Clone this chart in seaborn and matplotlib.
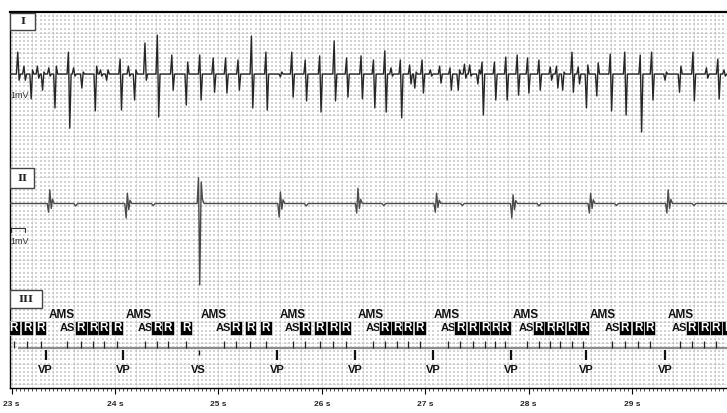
import numpy as np
import pandas as pd
import matplotlib
matplotlib.use("Agg")
import matplotlib.pyplot as plt
from matplotlib.patches import Rectangle
from matplotlib.ticker import MultipleLocator
import seaborn as sns

# ---- channel I (atrial EGM): spike time [s], first and second extreme [mm, up = +]
ch1_t = [23.06, 23.12, 23.19, 23.25, 23.30, 23.36, 23.42, 23.55, 23.60, 23.68,
         23.81, 23.86, 23.92, 24.05, 24.13, 24.19, 24.29, 24.41, 24.55, 24.69,
         24.82, 24.95, 25.07, 25.19, 25.32, 25.46, 25.60, 25.71, 25.84, 25.98,
         26.12, 26.24, 26.38, 26.50, 26.61, 26.67, 26.76, 26.85, 26.90, 26.97,
         27.05, 27.14, 27.24, 27.32, 27.38, 27.43, 27.51, 27.55, 27.67, 27.78,
         27.89, 27.99, 28.10, 28.21, 28.27, 28.33, 28.42, 28.48, 28.56, 28.66,
         28.79, 28.93, 29.08, 29.19, 29.32, 29.46, 29.59, 29.72, 29.83, 29.89]
ch1_a = [5.3, 1.9, -6.0, 1.9, -3.9, 1.5, -8.2, 5.3, 1.5, -3.4,
         -8.9, 1.0, -1.5, 3.6, 1.9, -6.3, 7.5, 9.4, 4.6, -7.5,
         4.6, 3.9, 3.9, 3.4, 9.2, 5.3, -0.7, 5.3, 3.4, 4.4,
         8.0, 3.9, 4.4, 3.4, 5.6, 1.5, 3.4, 2.2, -3.4, 3.4,
         1.0, 1.9, 1.5, -3.9, 2.4, 2.2, -2.4, 2.9, 2.9, 4.1,
         4.6, 3.9, 3.4, 1.7, 1.9, -3.9, 5.3, 1.7, -8.2, -5.3,
         4.8, 5.3, 4.6, 5.3, -1.5, -4.4, 5.3, 1.5, 3.6, 1.0]
ch1_b = [-1.5, -1.5, 1.0, -1.0, 0.5, -0.5, 1.9, -13.1, -0.5, 0.5,
         1.9, -0.5, 1.0, -8.7, -0.5, 1.0, -1.5, -10.4, -3.9, 2.9,
         -6.3, -4.4, -4.6, -3.9, -8.2, -8.7, 0.5, -5.6, -6.5, -9.2,
         -6.5, -5.6, -6.0, -8.2, -9.2, -0.5, -10.6, -2.4, 0.5, -4.6,
         -0.5, -2.2, -3.9, 1.0, -1.0, -0.5, 1.0, -9.9, -6.3, -6.3,
         -5.1, -4.6, -3.9, -1.5, -3.4, 0.5, -4.4, -2.4, 2.2, 2.7,
         -8.9, -9.9, -14.0, -6.3, 0.5, 1.9, -6.5, -1.0, -6.0, -0.5]

# ---- channel II (ventricular EGM): complex time [s] and four phase values [mm]
ch2_t = [23.37, 24.12, 24.82, 25.60, 26.35, 27.11, 27.85, 28.60, 29.35]
ch2_p1 = [-2.1, -3.5, 6.2, -3.3, -2.3, -2.1, -3.5, -2.3, -2.3]
ch2_p2 = [3.3, 2.5, -19.7, 2.8, 3.7, 2.5, 2.1, 2.5, 3.3]
ch2_p3 = [-1.2, -1.5, 5.2, -1.4, -1.2, -1.0, -1.5, -1.2, -1.2]
ch2_p4 = [1.0, 0.8, 1.0, 0.9, 1.0, 0.8, 0.7, 0.9, 1.0]
twave_t = [23.62, 24.37, 25.85, 26.60, 27.36, 28.10, 28.85, 29.60]
twave_a = [-0.6, -0.5, -0.6, -0.5, -0.5, -0.6, -0.5, -0.5]

# ---- marker channel
atrial_t = [23.02, 23.15, 23.28, 23.54, 23.67, 23.79, 23.89, 24.02, 24.29, 24.41,
            24.51, 24.69, 25.05, 25.17, 25.31, 25.46, 25.72, 25.84, 25.98, 26.11,
            26.23, 26.50, 26.61, 26.73, 26.83, 26.95, 27.22, 27.34, 27.46, 27.58,
            27.68, 27.77, 27.98, 28.10, 28.21, 28.30, 28.42, 28.53, 28.81, 28.93,
            29.06, 29.17, 29.46, 29.58, 29.70, 29.81, 29.93]
atrial_lbl = ["R", "R", "R", "AS", "R", "R", "R", "R", "AS", "R",
              "R", "R", "AS", "R", "R", "R", "AS", "R", "R", "R",
              "R", "AS", "R", "R", "R", "R", "AS", "R", "R", "R",
              "R", "R", "AS", "R", "R", "R", "R", "R", "AS", "R",
              "R", "R", "AS", "R", "R", "R", "R"]
ams_t = [23.49, 24.23, 24.96, 25.72, 26.47, 27.21, 27.97, 28.72, 29.47]
vent_t = [23.33, 24.08, 24.81, 25.57, 26.32, 27.08, 27.83, 28.56, 29.32]
vent_lbl = ["VP", "VP", "VS", "VP", "VP", "VP", "VP", "VP", "VP"]

sec_ticks = [23, 24, 25, 26, 27, 28, 29]

# layout (mm from top, x in s at 25 mm/s)
X0, X1 = 22.985, 29.919
Y_BOTTOM = 90.9
BASE1, BASE2 = 15.0, 46.3
MARK_Y = 81.2

sns.set_theme(style="white")
plt.rcParams["font.family"] = ["Liberation Sans", "DejaVu Sans"]

fig = plt.figure(figsize=(7.27, 4.13), dpi=100)
ax = fig.add_axes([10 / 727, 1 - 388 / 413, 717 / 727, 376 / 413])
ax.set_xlim(X0, X1)
ax.set_ylim(Y_BOTTOM, 0)

# ECG paper grid
gx = np.arange(23.0, X1, 0.04)
gy = np.arange(0, Y_BOTTOM, 1.0)
GX, GY = np.meshgrid(gx, gy)
ax.scatter(GX.ravel(), GY.ravel(), s=0.6, c="#d3d3d3", marker="s", linewidths=0, zorder=0)
for x in np.arange(23.0, X1, 0.2):
    ax.axvline(x, color="#b4b4b4", lw=0.55, ls=(0, (1, 1.4)), zorder=0.5)
for y in np.arange(5, Y_BOTTOM, 5):
    ax.axhline(y, color="#bcbcbc", lw=0.55, ls=(0, (1, 1.4)), zorder=0.5)

# channel I trace
w = 0.013
xs, ys = [X0], [0.0]
for t, a, b in zip(ch1_t, ch1_a, ch1_b):
    xs += [t - w, t, t + w, t + 2 * w]
    ys += [0.0, a, b, 0.0]
xs.append(X1)
ys.append(0.0)
df1 = pd.DataFrame({"t": xs, "y": BASE1 - np.array(ys)})
sns.lineplot(data=df1, x="t", y="y", sort=False, estimator=None, ax=ax,
             color="#262626", lw=1.0, zorder=3)

# channel II trace
xs, ys = [X0], [0.0]
events = [(t, [0, p1, p2, p3, p4, 0]) for t, p1, p2, p3, p4 in
          zip(ch2_t, ch2_p1, ch2_p2, ch2_p3, ch2_p4)]
events += [(t, [0, a, 0]) for t, a in zip(twave_t, twave_a)]
events.sort(key=lambda e: e[0])
for t, vals in events:
    if len(vals) == 6:
        offs = [-0.025, -0.012, 0.0, 0.014, 0.026, 0.042]
    else:
        offs = [-0.018, 0.0, 0.018]
    xs += [t + o for o in offs]
    ys += vals
xs.append(X1)
ys.append(0.0)
df2 = pd.DataFrame({"t": xs, "y": BASE2 - np.array(ys)})
sns.lineplot(data=df2, x="t", y="y", sort=False, estimator=None, ax=ax,
             color="#4a4a4a", lw=1.0, zorder=3)

# channel label boxes
px = lambda p: 23 + (p - 11.6) / 103.4
for name, y0, y1, x1 in [("I", 0.25, 4.35, 35), ("II", 37.7, 42.6, 34), ("III", 67.2, 71.6, 42)]:
    ax.add_patch(Rectangle((X0, y0), px(x1) - X0, y1 - y0, facecolor="white",
                           edgecolor="#444444", lw=1.0, zorder=5))
    ax.text((X0 + px(x1)) / 2, (y0 + y1) / 2, name, ha="center", va="center",
            fontsize=7.5, fontweight="bold", family="DejaVu Serif", color="#222222", zorder=6)

# calibration marks
ax.text(px(10.5), 20.1, "1mV", ha="left", va="center", fontsize=6.5, color="#333333", zorder=4)
ax.plot([px(11), px(11), px(25), px(25)], [53.3, 52.2, 52.2, 53.3], color="#333333", lw=0.8, zorder=4)
ax.text(px(10.5), 55.4, "1mV", ha="left", va="center", fontsize=6.5, color="#333333", zorder=4)

# marker channel
ax.hlines(MARK_Y, px(18), X1, color="#8c8c8c", lw=1.6, zorder=3)
ax.vlines(atrial_t, 79.5, MARK_Y, color="#222222", lw=0.9, zorder=4)
r_t = [t for t, l in zip(atrial_t, atrial_lbl) if l == "R"]
as_t = [t for t, l in zip(atrial_t, atrial_lbl) if l == "AS"]
for t in as_t:
    ax.text(t, 76.4, "AS", ha="center", va="center", fontsize=8, fontweight="bold",
            color="#111111", zorder=4)
ax.bar(r_t, 3.5, bottom=74.65, width=0.114, color="black", edgecolor="white",
       linewidth=0.4, align="center", zorder=5)
for t in r_t:
    ax.text(t, 76.45, "R", ha="center", va="center", fontsize=8.5, fontweight="bold",
            color="white", zorder=6, clip_on=True)
for t in ams_t:
    ax.text(t, 73.3, "AMS", ha="center", va="center", fontsize=8.5, fontweight="bold",
            color="#111111", zorder=4)
for t, l in zip(vent_t, vent_lbl):
    end = 84.1 if l == "VP" else 82.9
    ax.vlines(t, 81.6, end, color="#111111", lw=1.6 if l == "VP" else 1.0, zorder=4)
    ax.text(t, 86.6, l, ha="center", va="center", fontsize=8, fontweight="bold",
            color="#111111", zorder=4)

# axes frame and time ticks
ax.spines["right"].set_visible(False)
ax.spines["top"].set_linewidth(1.6)
ax.spines["top"].set_color("black")
ax.spines["left"].set_linewidth(1.0)
ax.spines["left"].set_color("black")
ax.spines["bottom"].set_linewidth(1.0)
ax.spines["bottom"].set_color("black")
ax.set_xticks(sec_ticks)
ax.set_xticklabels([f"{s} s" for s in sec_ticks], fontsize=6, fontweight="bold")
ax.xaxis.set_minor_locator(MultipleLocator(0.04))
ax.tick_params(axis="x", which="major", direction="out", length=4.5, width=0.8, pad=4.5,
               bottom=True, color="black")
ax.tick_params(axis="x", which="minor", direction="out", length=2, width=0.6,
               bottom=True, color="#333333")
ax.text(30.0, -0.045, "30 s", transform=ax.get_xaxis_transform(), ha="center", va="top",
        fontsize=6, fontweight="bold", clip_on=False)
ax.set_yticks([])
ax.set_xlabel("")
ax.set_ylabel("")

fig.savefig("out.png", dpi=100)
